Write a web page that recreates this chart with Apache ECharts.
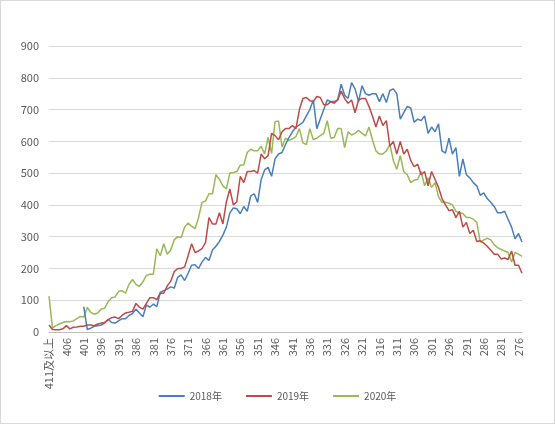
<!DOCTYPE html>
<html><head><meta charset="utf-8">
<script src="https://cdn.jsdelivr.net/npm/echarts@6/dist/echarts.min.js"></script>
<style>html,body{margin:0;padding:0;background:#fff}#c{width:553px;height:422px;border:1px solid #d9d9d9}</style>
</head><body><div id="c"></div>
<script>
const firstCategory = "411及以上";
const scoreFrom = 410, scoreTo = 275;
const categories = [firstCategory];
for (let s = scoreFrom; s >= scoreTo; s--) categories.push(String(s));
const seriesNames = ["2018年","2019年","2020年"];
const y2018 = [null,null,null,null,null,null,null,null,null,null,
80,8,12,18,20,22,28,40,30,28,35,42,42,52,58,72,60,48,85,78,88,80,125,130,135,142,138,172,180,162,185,210,212,200,220,235,225,258,270,285,305,330,375,390,388,372,395,380,428,435,408,480,510,518,
490,545,560,565,590,612,630,645,652,660,680,700,730,640,670,700,730,725,725,730,780,745,735,785,765,725,775,750,745,750,750,725,750,722,760,765,750,670,690,710,705,660,670,665,680,625,645,630,655,570,563,610,560,580,490,545,495,485,470,460,430,438,420,408,395,375,375,380,355,330,293,310,283];
const y2019 = [22,8,7,7,10,20,10,15,16,18,18,22,22,20,25,28,30,38,45,47,42,52,60,62,65,90,78,72,90,108,108,102,122,122,145,160,190,200,200,205,240,278,250,255,262,282,360,340,340,375,340,410,450,400,410,490,470,505,505,508,500,560,545,555,625,618,605,
630,640,640,650,640,700,735,738,728,725,741,738,715,715,725,720,730,758,735,720,730,690,730,735,735,710,680,645,680,650,665,585,600,560,600,560,575,540,520,528,495,505,460,505,480,455,420,400,382,385,360,380,330,345,310,320,285,287,280,270,258,245,245,230,233,228,255,210,210,185];
const y2020 = [113,12,20,25,30,33,32,35,42,49,47,77,62,56,60,72,75,95,108,110,128,130,122,150,165,150,143,158,178,182,182,262,240,278,245,258,290,300,297,330,343,333,325,360,408,412,435,435,495,480,460,450,500,502,505,525,526,565,575,570,570,585,560,612,562,662,
664,582,610,603,608,615,640,595,590,640,605,610,618,625,665,610,612,640,640,580,630,620,625,635,625,617,645,605,570,560,560,570,590,540,512,555,505,495,470,478,480,505,460,485,455,470,425,408,408,405,400,380,375,373,360,360,355,345,283,290,295,290,275,265,260,255,250,220,250,245,238];
const colors = ["#4a7ebb","#be4b48","#98b954"];
const yTicks = {min:0,max:900,interval:100};
const chart = echarts.init(document.getElementById('c'));
chart.setOption({
  animation:false,
  color:colors,
  textStyle:{fontFamily:"Noto Sans CJK SC, DejaVu Sans, sans-serif"},
  grid:{left:48,right:32,top:45,bottom:91,containLabel:false},
  legend:{bottom:17,left:'center',itemWidth:26,itemHeight:2,icon:'rect',itemGap:24,
    textStyle:{fontSize:10,color:'#595959'},data:seriesNames},
  xAxis:{type:'category',data:categories,boundaryGap:false,
    axisLine:{lineStyle:{color:'#bfbfbf'}},axisTick:{show:false},
    axisLabel:{rotate:90,interval:4,fontSize:11,color:'#595959',margin:6}},
  yAxis:{type:'value',min:yTicks.min,max:yTicks.max,interval:yTicks.interval,
    axisLine:{show:false},axisTick:{show:false},
    axisLabel:{fontSize:11,color:'#595959',margin:10},
    splitLine:{lineStyle:{color:'#d9d9d9'}}},
  series:[y2018,y2019,y2020].map((d,i)=>({name:seriesNames[i],type:'line',data:d,
    symbol:'none',connectNulls:false,lineStyle:{width:1.5},z:i===2?1:2}))
});
</script></body></html>
